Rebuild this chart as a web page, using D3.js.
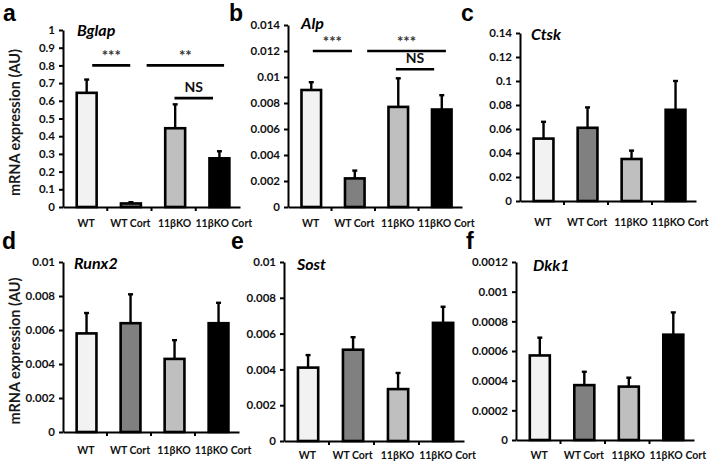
<!DOCTYPE html>
<html><head><meta charset="utf-8">
<script src="https://cdn.jsdelivr.net/npm/d3@7"></script>
<style>html,body{margin:0;padding:0;background:#fff;} svg{display:block;}</style>
</head><body>
<svg id="chart" width="709" height="462"></svg>
<script>
// ---------------- DATA ----------------
const categories = ["WT", "WT Cort", "11βKO", "11βKO Cort"];
const genes = ["Bglap", "Alp", "Ctsk", "Runx2", "Sost", "Dkk1"];
const panelLetters = ["a", "b", "c", "d", "e", "f"];
const yAxisTitle = "mRNA expression (AU)";

const bglapMean = [0.645, 0.02, 0.445, 0.275];
const bglapErr  = [0.075, 0.007, 0.135, 0.04];
const alpMean   = [0.0090, 0.0022, 0.0077, 0.0075];
const alpErr    = [0.0006, 0.0006, 0.0022, 0.0011];
const ctskMean  = [0.052, 0.061, 0.035, 0.076];
const ctskErr   = [0.014, 0.017, 0.007, 0.024];
const runx2Mean = [0.0058, 0.0064, 0.0043, 0.0064];
const runx2Err  = [0.0012, 0.0017, 0.0011, 0.0012];
const sostMean  = [0.0041, 0.0051, 0.0029, 0.0066];
const sostErr   = [0.0007, 0.0007, 0.0009, 0.0009];
const dkk1Mean  = [0.00057, 0.00037, 0.00036, 0.00071];
const dkk1Err   = [0.00012, 0.00009, 0.00006, 0.00015];

const bglapTicks = [0, 0.1, 0.2, 0.3, 0.4, 0.5, 0.6, 0.7, 0.8, 0.9, 1];
const alpTicks   = [0, 0.002, 0.004, 0.006, 0.008, 0.01, 0.012, 0.014];
const ctskTicks  = [0, 0.02, 0.04, 0.06, 0.08, 0.1, 0.12, 0.14];
const runx2Ticks = [0, 0.002, 0.004, 0.006, 0.008, 0.01];
const sostTicks  = [0, 0.002, 0.004, 0.006, 0.008, 0.01];
const dkk1Ticks  = [0, 0.0002, 0.0004, 0.0006, 0.0008, 0.001, 0.0012];

// significance brackets: from/to in category-index units, y in data units
const bglapSig = [
  {label: "***", from: 0.16, to: 1.02, y: 0.80},
  {label: "**",  from: 1.39, to: 3.14, y: 0.80},
  {label: "NS",  from: 2.02, to: 2.89, y: 0.615}
];
const alpSig = [
  {label: "***", from: 0.07, to: 0.97, y: 0.012},
  {label: "***", from: 1.32, to: 3.13, y: 0.012},
  {label: "NS",  from: 1.98, to: 2.86, y: 0.0106}
];

// ---------------- LAYOUT / STYLE ----------------
const fills = ["#f2f2f2", "#808080", "#bfbfbf", "#000000"];
const panels = [
  {mean: bglapMean, err: bglapErr, ticks: bglapTicks, sig: bglapSig, x0: 63,  x1: 240, y0: 207, y1: 30,  lab: 16, lx: 3,   ly: 21,  tx: 77,  ty: 36,  ytitle: true},
  {mean: alpMean,   err: alpErr,   ticks: alpTicks,   sig: alpSig,   x0: 288, x1: 462, y0: 207, y1: 25,  lab: 16, lx: 229, ly: 21,  tx: 301, ty: 29,  ytitle: false},
  {mean: ctskMean,  err: ctskErr,  ticks: ctskTicks,  sig: [],       x0: 520, x1: 696, y0: 201, y1: 33,  lab: 21, lx: 461, ly: 21,  tx: 531, ty: 40,  ytitle: false},
  {mean: runx2Mean, err: runx2Err, ticks: runx2Ticks, sig: [],       x0: 63,  x1: 239, y0: 432, y1: 262, lab: 18, lx: 2,   ly: 249, tx: 74,  ty: 269, ytitle: true},
  {mean: sostMean,  err: sostErr,  ticks: sostTicks,  sig: [],       x0: 284, x1: 464, y0: 441, y1: 262, lab: 14, lx: 231, ly: 249, tx: 297, ty: 270, ytitle: false},
  {mean: dkk1Mean,  err: dkk1Err,  ticks: dkk1Ticks,  sig: [],       x0: 516, x1: 694, y0: 440, y1: 262, lab: 15, lx: 466, ly: 249, tx: 533, ty: 271, ytitle: false}
];

const FONT = "Lato, 'Open Sans', sans-serif";
const svg = d3.select("#chart");

panels.forEach((p, pi) => {
  const g = svg.append("g");
  const x = d3.scaleBand().domain(categories).range([p.x0, p.x1]).padding(0);
  const bw = x.bandwidth();
  const xc = v => p.x0 + bw * (v + 0.5);
  const y = d3.scaleLinear().domain([0, d3.max(p.ticks)]).range([p.y0, p.y1]);

  // bars
  g.selectAll("rect.bar").data(categories).join("rect")
    .attr("class", "bar")
    .attr("x", c => x(c) + bw * 0.31)
    .attr("width", bw * 0.45)
    .attr("y", (c, i) => y(p.mean[i]))
    .attr("height", (c, i) => y(0) - y(p.mean[i]))
    .attr("fill", (c, i) => fills[i])
    .attr("stroke", "#000").attr("stroke-width", 2.6);

  // error bars (upper only)
  const ex = c => x(c) + bw * 0.31 + bw * 0.225;
  g.selectAll("line.err").data(categories).join("line")
    .attr("x1", ex).attr("x2", ex)
    .attr("y1", (c, i) => y(p.mean[i]))
    .attr("y2", (c, i) => y(p.mean[i] + p.err[i]))
    .attr("stroke", "#000").attr("stroke-width", 2.4);
  g.selectAll("line.cap").data(categories).join("line")
    .attr("x1", c => ex(c) - 2.5).attr("x2", c => ex(c) + 2.5)
    .attr("y1", (c, i) => y(p.mean[i] + p.err[i]))
    .attr("y2", (c, i) => y(p.mean[i] + p.err[i]))
    .attr("stroke", "#000").attr("stroke-width", 2.4);

  // y axis
  const ya = g.append("g").attr("transform", `translate(${p.x0},0)`)
    .call(d3.axisLeft(y).tickValues(p.ticks).tickSize(4).tickSizeOuter(0).tickPadding(4).tickFormat(d => String(d)));
  ya.select(".domain").attr("stroke", "#000").attr("stroke-width", 2);
  ya.selectAll(".tick line").attr("stroke", "#000").attr("stroke-width", 2);
  ya.selectAll(".tick text").attr("font-family", FONT).attr("font-weight", "bold")
    .attr("font-size", "11.5px").attr("fill", "#111");

  // x axis
  const xa = g.append("g").attr("transform", `translate(0,${p.y0})`)
    .call(d3.axisBottom(x).tickSize(0).tickSizeOuter(0).tickPadding(0));
  xa.select(".domain").attr("stroke", "#000").attr("stroke-width", 2);
  xa.selectAll(".tick text").attr("font-family", FONT).attr("font-weight", "bold")
    .attr("font-size", "10.5px").attr("fill", "#111")
    .attr("y", p.lab).attr("dy", "0.35em")
    .attr("dx", (d, i) => i === categories.length - 1 ? 6 : 1);
  g.selectAll("line.xtick").data(categories.slice(1)).join("line")
    .attr("x1", c => x(c)).attr("x2", c => x(c))
    .attr("y1", p.y0).attr("y2", p.y0 + 4)
    .attr("stroke", "#000").attr("stroke-width", 2);

  // significance
  p.sig.forEach(s => {
    g.append("line")
      .attr("x1", xc(s.from)).attr("x2", xc(s.to))
      .attr("y1", y(s.y)).attr("y2", y(s.y))
      .attr("stroke", "#000").attr("stroke-width", 2.6);
    const isNS = s.label === "NS";
    g.append("text")
      .attr("x", (xc(s.from) + xc(s.to)) / 2)
      .attr("y", y(s.y) - (isNS ? 6 : 4))
      .attr("text-anchor", "middle")
      .attr("font-family", FONT).attr("font-weight", "bold")
      .attr("font-size", isNS ? "14px" : "15px")
      .attr("fill", isNS ? "#111" : "#333")
      .text(s.label);
  });

  // gene title
  g.append("text").attr("x", p.tx).attr("y", p.ty)
    .attr("font-family", FONT).attr("font-weight", "bold").attr("font-style", "italic")
    .attr("font-size", "16px").attr("fill", "#000").text(genes[pi]);

  // panel letter
  g.append("text").attr("x", p.lx).attr("y", p.ly)
    .attr("font-family", "'Liberation Sans', Arial, sans-serif").attr("font-weight", "bold")
    .attr("font-size", "23px").attr("fill", "#000").text(panelLetters[pi]);

  // y title
  if (p.ytitle) {
    g.append("text")
      .attr("transform", `translate(20,${(p.y0 + p.y1) / 2 + 4}) rotate(-90)`)
      .attr("text-anchor", "middle")
      .attr("font-family", FONT).attr("font-weight", "bold").attr("font-size", "14.5px").attr("fill", "#1a1a1a")
      .text(yAxisTitle);
  }
});
</script>
</body></html>
